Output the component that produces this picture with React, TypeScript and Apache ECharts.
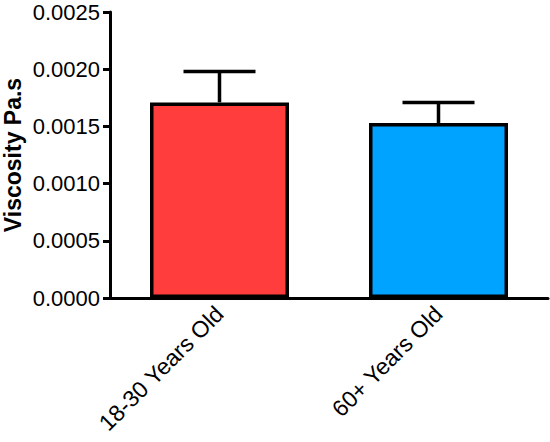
import React, { useEffect, useRef } from "react";
import * as echarts from "echarts";

const categories = ["18-30 Years Old", "60+ Years Old"];
const means = [0.00171, 0.00153];
const errors = [0.00027, 0.00018];
const barColors = ["#FF3D3D", "#00A3FF"];
const yTicks = [0, 0.0005, 0.001, 0.0015, 0.002, 0.0025];

export default function App() {
  const ref = useRef<HTMLDivElement>(null);
  useEffect(() => {
    if (!ref.current) return;
    const chart = echarts.init(ref.current, undefined, { renderer: "svg" });
    const font = "'Liberation Sans', Arial, Helvetica, sans-serif";
    chart.setOption({
      animation: false,
      grid: { left: 110, right: 2, top: 12, bottom: 144, containLabel: false, outerBoundsMode: "none" },
      xAxis: {
        type: "category",
        data: categories,
        axisLine: { lineStyle: { color: "#000", width: 3 } },
        axisTick: { alignWithLabel: true, length: 7, lineStyle: { color: "#000", width: 2 } },
        axisLabel: {
          rotate: 45,
          margin: 12,
          color: "#000",
          fontSize: 23,
          fontFamily: font,
        },
      },
      yAxis: {
        type: "value",
        min: 0,
        max: 0.0025,
        interval: 0.0005,
        name: "Viscosity Pa.s",
        nameLocation: "middle",
        nameGap: 86,
        nameMoveOverlap: false,
        nameTextStyle: { color: "#000", fontSize: 23, fontWeight: "bold", fontFamily: font },
        splitLine: { show: false },
        axisLine: { show: true, lineStyle: { color: "#000", width: 3 } },
        axisTick: { show: true, length: 7, lineStyle: { color: "#000", width: 3 } },
        axisLabel: {
          margin: 10,
          color: "#000",
          fontSize: 22,
          fontFamily: font,
          formatter: (v: number) => {
            const t = yTicks.find((x) => Math.abs(x - v) < 1e-9);
            return (t !== undefined ? t : v).toFixed(4);
          },
        },
      },
      series: [
        {
          type: "bar",
          barWidth: 139,
          data: means.map((m, i) => ({
            value: m,
            itemStyle: { color: barColors[i], borderColor: "#000", borderWidth: 3.5 },
          })),
          z: 2,
        },
        {
          type: "custom",
          z: 3,
          data: means.map((m, i) => [i, m, errors[i]]),
          renderItem: (params: any, api: any) => {
            const idx = api.value(0);
            const m = api.value(1);
            const e = api.value(2);
            const p0 = api.coord([idx, m]);
            const p1 = api.coord([idx, m + e]);
            const half = 36;
            const style = { stroke: "#000", lineWidth: 3.5 };
            return {
              type: "group",
              children: [
                { type: "line", shape: { x1: p0[0], y1: p0[1], x2: p1[0], y2: p1[1] }, style },
                { type: "line", shape: { x1: p1[0] - half, y1: p1[1], x2: p1[0] + half, y2: p1[1] }, style },
              ],
            };
          },
        },
      ],
    });
    return () => chart.dispose();
  }, []);
  return <div ref={ref} style={{ width: 550, height: 442, position: "absolute", left: 0, top: 0 }} />;
}
